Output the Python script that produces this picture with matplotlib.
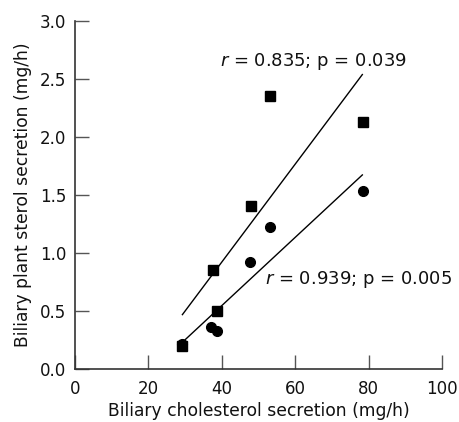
import numpy as np
import matplotlib
matplotlib.use("Agg")
import matplotlib.pyplot as plt

# plant sterol vs cholesterol secretion (mg/h)
x_squares = [29.3, 37.7, 38.7, 48.0, 53.2, 78.5]
y_squares = [0.20, 0.85, 0.50, 1.40, 2.35, 2.13]
x_circles = [29.2, 37.2, 38.6, 47.7, 53.2, 78.5]
y_circles = [0.21, 0.36, 0.33, 0.92, 1.22, 1.53]

label_top = r"$\it{r}$ = 0.835; p = 0.039"
label_bottom = r"$\it{r}$ = 0.939; p = 0.005"

plt.rcParams['font.family'] = ['DejaVu Sans']
plt.rcParams['mathtext.fontset'] = 'dejavusans'

fig = plt.figure(figsize=(4.59, 4.22), dpi=100)
ax = fig.add_axes([0.163, 0.126, 0.800, 0.825])

ax.plot(x_squares, y_squares, 's', color='black', markersize=6.5)
ax.plot(x_circles, y_circles, 'o', color='black', markersize=7)

# regression lines across the data range
for xs, ys in [(x_squares, y_squares), (x_circles, y_circles)]:
    k, b = np.polyfit(xs, ys, 1)
    xl = np.array([min(xs), max(xs) - 0.2])
    ax.plot(xl, k * xl + b, color='black', linewidth=1)

ax.text(39.5, 2.65, label_top, fontsize=13, va='center', ha='left', color='#111111')
ax.text(51.8, 0.77, label_bottom, fontsize=13, va='center', ha='left', color='#111111')

ax.set_xlim(0, 100)
ax.set_ylim(0, 3.0)
ax.set_xticks([0, 20, 40, 60, 80, 100])
ax.set_yticks([0.0, 0.5, 1.0, 1.5, 2.0, 2.5, 3.0])
ax.set_yticklabels(['0.0', '0.5', '1.0', '1.5', '2.0', '2.5', '3.0'])

for side in ['top', 'right']:
    ax.spines[side].set_visible(False)
for side in ['left', 'bottom']:
    ax.spines[side].set_color('#333333')
    ax.spines[side].set_linewidth(1.2)

ax.tick_params(direction='in', length=10, width=1, color='#555555',
               labelsize=12, labelcolor='#111111')
ax.tick_params(axis='x', pad=8)
ax.tick_params(axis='y', pad=6)

ax.set_xlabel('Biliary cholesterol secretion (mg/h)', fontsize=12.3, color='#111111', labelpad=3)
ax.set_ylabel('Biliary plant sterol secretion (mg/h)', fontsize=12.3, color='#111111', labelpad=6)

fig.savefig('out.png', dpi=100)
